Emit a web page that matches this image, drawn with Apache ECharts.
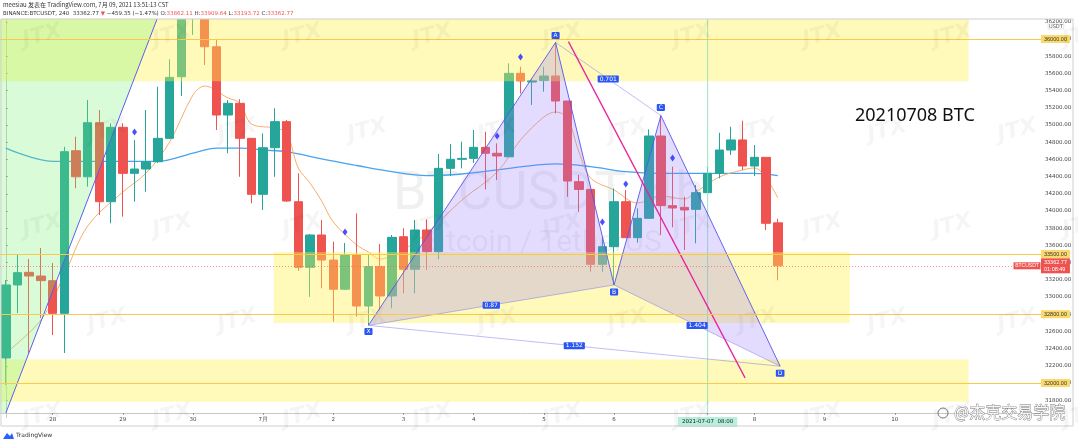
<!DOCTYPE html>
<html>
<head>
<meta charset="utf-8">
<title>20210708 BTC</title>
<script src="https://cdn.jsdelivr.net/npm/echarts@6/dist/echarts.min.js"></script>
<style>
html, body { margin: 0; padding: 0; background: #fff; }
#main { width: 1078px; height: 446px; }
</style>
</head>
<body>
<div id="main"></div>
<script>
// BTCUSDT 4h candles, 2021-06-27 08:00 onward: [open, close, low, high]
var candles = [
    [32291, 33140, 31977, 33198], [33140, 33283, 32814, 33488], [33287, 33244, 32349, 33442],
    [33244, 33190, 32756, 33570], [33190, 32810, 32558, 33395], [32810, 34690, 32349, 34747],
    [34701, 34398, 34264, 34864], [34398, 35027, 34283, 35291], [35027, 34108, 33953, 35174],
    [34108, 34973, 33857, 35020], [34973, 34438, 33934, 35020], [34438, 34488, 34108, 34826],
    [34488, 34573, 34224, 35174], [34573, 34845, 34558, 35445], [34845, 35554, 34837, 35763],
    [35561, 36350, 35337, 36450], [36350, 36420, 36047, 36600], [36400, 35910, 35698, 36450],
    [35910, 35116, 34942, 35990], [35116, 35252, 34671, 35291], [35252, 34845, 34398, 35300],
    [34845, 34194, 34090, 34849], [34194, 34736, 34012, 34902], [34736, 35039, 34398, 35194],
    [35039, 34116, 34105, 35058], [34108, 33345, 33305, 34438], [33345, 33721, 33002, 33733],
    [33721, 33430, 33101, 33895], [33430, 33090, 32713, 33643], [33090, 33488, 33081, 33628],
    [33488, 32895, 32771, 33972], [32895, 33353, 32674, 33488], [33353, 33012, 32849, 33616],
    [33012, 33694, 32869, 33721], [33701, 33322, 33043, 33799], [33322, 33779, 33043, 33895],
    [33779, 33527, 33314, 33902], [33527, 34496, 33438, 34663], [34496, 34601, 34407, 34779],
    [34601, 34612, 34496, 34806], [34612, 34740, 34558, 34942], [34740, 34671, 34251, 34922],
    [34671, 34640, 34361, 34787], [34630, 35601, 34628, 35717], [35601, 35512, 35366, 35678],
    [35500, 35515, 35233, 35540], [35517, 35570, 35387, 35678], [35570, 35279, 35135, 35960],
    [35279, 34349, 34166, 35279], [34341, 34251, 33992, 34419], [34251, 33380, 33294, 34256],
    [33380, 33585, 33294, 33701], [33585, 34108, 33140, 34263], [34108, 33690, 33686, 34244],
    [33690, 33915, 33631, 34031], [33915, 34872, 33907, 34949], [34872, 34062, 33721, 35110],
    [34062, 34035, 33810, 34516], [34042, 34012, 33547, 34165], [34019, 34213, 33624, 34302],
    [34213, 34437, 34209, 34512], [34437, 34709, 34380, 34910], [34709, 34826, 34651, 34980],
    [34826, 34523, 34477, 35050], [34523, 34624, 34407, 34767], [34624, 33857, 33779, 34628],
    [33862.11, 33362.77, 33193.72, 33909.64]
];

// moving averages: [candle index, price]
var maFast = [
    [0, 32350], [3, 32733], [5, 33256], [7, 33826], [10, 34221], [12, 34442], [14, 34802],
    [16, 35349], [17, 35453], [19, 35314], [20, 35256], [21, 35012], [23, 34965], [24, 34907],
    [25, 34500], [26, 34326], [27, 34116], [28, 33872], [30, 33605], [31, 33523], [32, 33442],
    [33, 33477], [34, 33547], [36, 33744], [39, 34128], [42, 34453], [44, 34826], [46, 35093],
    [47, 35151], [48, 35081], [49, 34686], [50, 34384], [52, 34244], [54, 34093], [56, 34174],
    [58, 34140], [59, 34221], [61, 34395], [63, 34477], [64, 34500], [65, 34384], [66, 34151]
];
var maSlow = [
    [0, 34732], [4, 34577], [8, 34577], [13, 34577], [16, 34674], [18, 34732], [20, 34732],
    [22, 34709], [24, 34690], [27, 34605], [30, 34529], [33, 34457], [36, 34411], [39, 34430],
    [42, 34477], [44, 34512], [47, 34547], [50, 34516], [53, 34457], [56, 34438], [60, 34438],
    [64, 34438], [66, 34411]
];

// blue diamond signals
var signals = [[11, 34918], [29, 33756], [42, 34872], [44, 35791], [51, 33872], [53, 34314], [57, 34616]];

// drawings, in [candle index, price]
var zones = [
    [[-0.5, 35510], [82.3, 36400]],
    [[22.9, 32698], [72.15, 33523]],
    [[-0.5, 31783], [82.3, 32272]]
];
var channel = [[-0.5, 36400], [13.4, 36400], [0, 31651], [-0.5, 31651]];
var trendLine = [[0, 31651], [13.4, 36400]];
var pinkLine = [[48.1, 35970], [63.2, 32060]];
var pattern = { X: [31, 32670], A: [47, 35960], B: [52, 33140], C: [56, 35110], D: [66.2, 32195] };
var ratios = [['X', 'B', '0.87'], ['A', 'C', '0.701'], ['B', 'D', '1.404'], ['X', 'D', '1.152']];
var levels = [36000, 33500, 32800, 32000];
var lastPrice = 33362.77;
var crossIdx = 60;
var slotCount = 89;

// time axis
var times = [], tickText = [];
var t0 = Date.UTC(2021, 5, 27, 8);
function pad(n) { return (n < 10 ? '0' : '') + n; }
for (var i = 0; i < slotCount; i++) {
    var d = new Date(t0 + i * 4 * 3600 * 1000);
    var s = d.getUTCFullYear() + '-' + pad(d.getUTCMonth() + 1) + '-' + pad(d.getUTCDate()) + '  ' + pad(d.getUTCHours()) + ':00';
    times.push(s);
    var txt = '';
    if (d.getUTCHours() === 0) txt = d.getUTCDate() === 1 ? (d.getUTCMonth() + 1) + '月' : String(d.getUTCDate());
    if (i === crossIdx) txt = '{c|' + s + '}';
    if (i === 58 || i >= 82) txt = '';
    tickText.push(txt);
}

// shapes for the custom overlay series
var shapes = [];
zones.forEach(function (z) {
    shapes.push({ kind: 'poly', fill: 'rgba(255,243,80,0.40)',
        pts: [z[0], [z[1][0], z[0][1]], z[1], [z[0][0], z[1][1]]] });
});
shapes.push({ kind: 'poly', fill: 'rgba(120,240,110,0.28)', pts: channel });
shapes.push({ kind: 'line', stroke: '#5b5ff0', width: 1, pts: trendLine });
shapes.push({ kind: 'line', stroke: 'rgba(130,220,180,0.8)', width: 1, pts: [[crossIdx, 31651], [crossIdx, 36400]] });
var P = pattern;
shapes.push({ kind: 'poly', fill: 'rgba(150,120,255,0.26)', pts: [P.X, P.A, P.B] });
shapes.push({ kind: 'poly', fill: 'rgba(150,120,255,0.26)', pts: [P.B, P.C, P.D] });
[['X', 'B'], ['A', 'C'], ['B', 'D'], ['X', 'D']].forEach(function (p) {
    shapes.push({ kind: 'line', stroke: 'rgba(110,110,235,0.45)', width: 1, pts: [P[p[0]], P[p[1]]] });
});
shapes.push({ kind: 'line', stroke: 'rgba(85,85,235,0.9)', width: 1, pts: [P.X, P.A, P.B, P.C, P.D] });
shapes.push({ kind: 'line', stroke: '#e8259c', width: 1.3, pts: pinkLine });
ratios.forEach(function (r) {
    shapes.push({ kind: 'tag', text: r[2], dy: 0, pts: [P[r[0]], P[r[1]]] });
});
[['X', 6], ['A', -7], ['B', 7], ['C', -8], ['D', 7]].forEach(function (p) {
    shapes.push({ kind: 'tag', text: p[0], dy: p[1], pts: [P[p[0]]] });
});

function renderItem(params, api) {
    var sh = shapes[params.dataIndex];
    var pts = sh.pts.map(function (p) { return api.coord(p); });
    if (sh.kind === 'poly') {
        return { type: 'polygon', silent: true, shape: { points: pts }, style: { fill: sh.fill } };
    }
    if (sh.kind === 'line') {
        return { type: 'polyline', silent: true, shape: { points: pts }, style: { fill: null, stroke: sh.stroke, lineWidth: sh.width } };
    }
    var x = 0, y = 0;
    pts.forEach(function (p) { x += p[0] / pts.length; y += p[1] / pts.length; });
    return {
        type: 'text', silent: true, x: x, y: y + sh.dy,
        style: { text: sh.text, fill: '#fff', backgroundColor: '#2b55f5', padding: [1, 2, 0, 2], borderRadius: 1,
            fontSize: 6, fontFamily: 'DejaVu Sans', align: 'center', verticalAlign: 'middle' }
    };
}

// faint image-host watermark
var marks = [];
for (var r = 0; r < 5; r++) {
    for (var c = 0; c < 9; c++) {
        marks.push({ type: 'text', z: 60, silent: true, x: 20 + c * 130 + (r % 2) * 65, y: 30 + r * 95, rotation: 0.25,
            style: { text: 'JTX', fill: 'rgba(0,0,0,0.04)', fontSize: 22, fontWeight: 'bold', fontStyle: 'italic', fontFamily: 'DejaVu Sans' } });
    }
}

var levelLines = levels.map(function (v) {
    return { yAxis: v, lineStyle: { color: '#f9c94c', width: 1.2, type: 'solid' },
        label: { show: true, position: 'end', distance: 0, formatter: v.toFixed(2), backgroundColor: '#fcd96b',
            color: '#333', fontSize: 5.5, padding: [1, 3] } };
});
levelLines.push({ yAxis: lastPrice, lineStyle: { color: 'rgba(239,83,80,0.6)', width: 1, type: [1, 2] },
    label: { show: true, position: 'end', distance: 0, formatter: lastPrice.toFixed(2) + '\n01:08:49', backgroundColor: '#ef5350',
        color: '#fff', fontSize: 5.5, lineHeight: 6.5, padding: [1, 3] } });

var option = {
    animation: false,
    grid: { left: 0, right: 37, top: 4.6, bottom: 28.6, outerBoundsMode: 'none' },
    xAxis: [{
        type: 'category',
        data: times,
        boundaryGap: true,
        offset: -4.4,
        axisLine: { onZero: false, lineStyle: { color: '#c8c8c8' } },
        axisTick: { show: true, alignWithLabel: true, length: 2, interval: function (idx) { return tickText[idx] !== ''; }, lineStyle: { color: '#999' } },
        axisLabel: {
            interval: function (idx) { return tickText[idx] !== ''; },
            formatter: function (v, idx) { return tickText[idx]; },
            color: '#444', fontSize: 5.5, margin: 4, fontFamily: 'DejaVu Sans',
            rich: { c: { backgroundColor: '#b7f0dc', color: '#222', padding: [2, 4], fontSize: 5.5, fontFamily: 'DejaVu Sans' } }
        },
        splitLine: { show: false }
    }, {
        type: 'value', min: -0.5, max: slotCount - 0.5, show: false
    }],
    yAxis: {
        type: 'value',
        position: 'right',
        min: 31600, max: 36400, interval: 200,
        axisLine: { show: true, lineStyle: { color: '#c8c8c8' } },
        axisTick: { show: true, length: 2, lineStyle: { color: '#999' } },
        axisLabel: { color: '#444', fontSize: 5.5, margin: 4, fontFamily: 'DejaVu Sans', showMinLabel: false, showMaxLabel: false,
            formatter: function (v) { return v.toFixed(2); } },
        splitLine: { show: false }
    },
    series: [{
        type: 'candlestick',
        data: candles,
        barWidth: 9,
        z: 2,
        itemStyle: { color: '#26a69a', color0: '#ef5350', borderColor: '#26a69a', borderColor0: '#ef5350', borderWidth: 1 }
    }, {
        type: 'line', data: maSlow, smooth: 0.35, symbol: 'none', z: 2,
        lineStyle: { color: '#45a3f0', width: 1.3 }
    }, {
        type: 'line', data: maFast, smooth: 0.35, symbol: 'none', z: 2,
        lineStyle: { color: '#f6ad6a', width: 1 }
    }, {
        type: 'custom', xAxisIndex: 1, z: 3, clip: true,
        data: shapes.map(function () { return [0, 34000]; }),
        renderItem: renderItem
    }, {
        type: 'line', xAxisIndex: 1, data: [], z: 4,
        markLine: { silent: true, symbol: 'none', animation: false, data: levelLines },
        markPoint: { silent: true, data: [{ coord: [slotCount - 0.5, lastPrice], symbol: 'rect', symbolSize: [27, 7], symbolOffset: [-14, 0],
            itemStyle: { color: '#ef5350' }, label: { show: true, position: 'inside', formatter: 'BTCUSDT', color: '#fff', fontSize: 5 } }] }
    }, {
        type: 'scatter', data: signals, symbol: 'diamond', symbolSize: [5, 7], z: 5,
        itemStyle: { color: '#1d23ff' }
    }],
    graphic: [
        { type: 'text', z: 0, silent: true, x: 393, y: 168, style: { text: 'BTCUSDT, 4h', fill: 'rgba(0,0,0,0.06)', fontSize: 54, fontFamily: 'Roboto' } },
        { type: 'text', z: 0, silent: true, x: 420, y: 228, style: { text: 'Bitcoin / TetherUS', fill: 'rgba(0,0,0,0.06)', fontSize: 30, fontFamily: 'Roboto' } },
        { type: 'rect', z: 50, silent: true, shape: { x: 0, y: 0, width: 1078, height: 19 }, style: { fill: '#fff' } },
        { type: 'rect', z: 51, silent: true, shape: { x: 1, y: 19, width: 1072, height: 407 }, style: { fill: null, stroke: '#cfcfcf', lineWidth: 1 } },
        { type: 'text', z: 52, silent: true, x: 3, y: 2, style: { text: 'meesiau 发表在 TradingView.com, 7月 09, 2021 13:51:13 CST', fill: '#333', fontSize: 6, fontFamily: 'Noto Sans CJK SC' } },
        { type: 'text', z: 52, silent: true, x: 3, y: 11, style: {
            text: '{a|BINANCE:BTCUSDT, 240  33362.77 }{r|▼}{a| −459.35 (−1.47%) O:}{r|33862.11}{a| H:}{r|33909.64}{a| L:}{r|33193.72}{a| C:}{r|33362.77}',
            rich: { a: { fill: '#333', fontSize: 5.5, fontFamily: 'DejaVu Sans' }, r: { fill: '#ef5350', fontSize: 5.5, fontFamily: 'DejaVu Sans' } } } },
        { type: 'text', z: 52, silent: true, x: 1048, y: 24, style: { text: 'USDT', fill: '#555', fontSize: 5, fontFamily: 'DejaVu Sans', borderColor: '#ccc', borderWidth: 0.5, padding: [0, 1] } },
        { type: 'text', z: 52, silent: true, x: 855, y: 107, style: { text: '20210708 BTC', fill: '#111', fontSize: 18, fontFamily: 'Noto Sans' } },
        { type: 'text', z: 52, silent: true, x: 16, y: 432, style: { text: 'TradingView', fill: '#333', fontSize: 6, fontFamily: 'DejaVu Sans' } },
        { type: 'polygon', z: 52, silent: true, shape: { points: [[3, 439], [7, 433], [10, 436], [12, 433], [14, 439]] }, style: { fill: '#2962ff' } },
        { type: 'text', z: 61, silent: true, x: 954, y: 404, style: { text: '@杰克交易学院', fill: 'rgba(255,255,255,0.9)', stroke: '#777', lineWidth: 0.8, fontSize: 16, fontFamily: 'Noto Sans CJK SC' } },
        { type: 'circle', z: 61, silent: true, shape: { cx: 943, cy: 413, r: 5 }, style: { fill: null, stroke: '#777', lineWidth: 1 } }
    ].concat(marks)
};

var chart = echarts.init(document.getElementById('main'));
chart.setOption(option);
</script>
</body>
</html>
